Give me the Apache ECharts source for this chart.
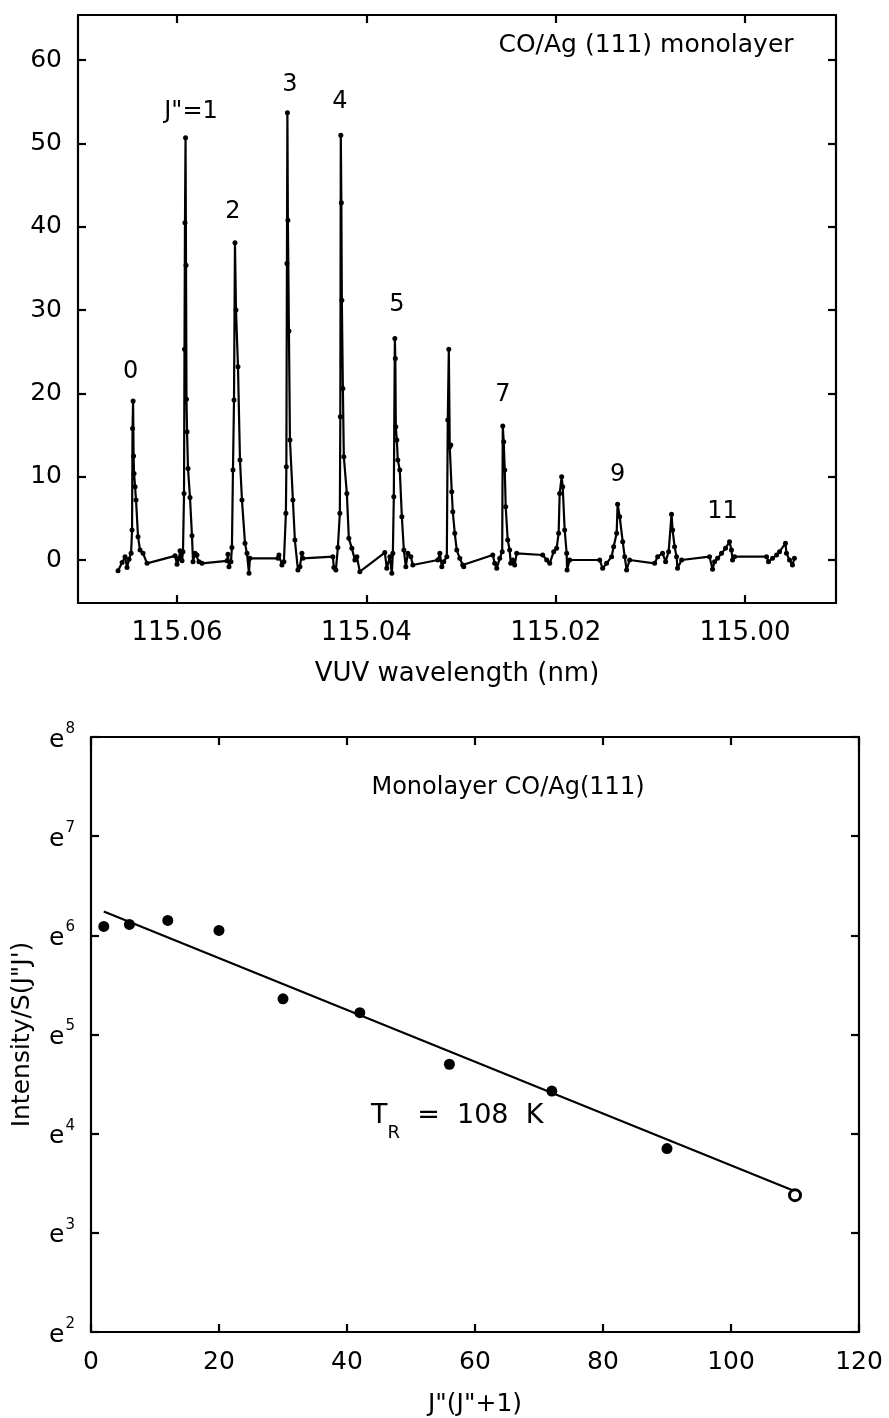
<!DOCTYPE html>
<html>
<head>
<meta charset="UTF-8">
<title>CO/Ag(111) VUV spectrum</title>
<script src="https://cdn.jsdelivr.net/npm/echarts@6/dist/echarts.min.js"></script>
<style>body{margin:0;background:#fff;}</style>
</head>
<body>
<div id="main" style="width:889px;height:1418px;"></div>
<script type="text/javascript">
// top panel: scan points [wavelength (nm), intensity], in scan order
var spectrum = [
  [115.06623,-1.3],[115.06580,-0.3],[115.06549,0.4],[115.06528,-0.9],[115.06507,0.1],[115.06485,0.8],[115.06475,3.6],[115.06470,15.8],[115.06464,19.1],[115.06459,12.5],[115.06454,10.4],[115.06443,8.8],[115.06433,7.2],[115.06412,2.8],[115.06391,1.2],[115.06359,0.8],[115.06317,-0.4],
  [115.06021,0.5],[115.06000,-0.5],[115.05979,0.2],[115.05968,1.1],[115.05947,-0.1],[115.05937,1.0],[115.05926,8.0],[115.05921,25.3],[115.05916,40.5],[115.05910,50.7],[115.05905,35.4],[115.05900,19.3],[115.05894,15.4],[115.05884,11.0],[115.05863,7.5],[115.05842,2.9],[115.05831,-0.2],[115.05810,0.8],[115.05789,0.6],[115.05768,-0.2],[115.05736,-0.4],
  [115.05472,-0.1],[115.05462,0.7],[115.05451,-0.8],[115.05430,-0.2],[115.05420,1.5],[115.05409,10.8],[115.05398,19.2],[115.05388,38.1],[115.05377,30.0],[115.05356,23.2],[115.05335,12.0],[115.05314,7.2],[115.05282,2.0],[115.05261,0.8],[115.05240,-1.6],[115.05230,0.2],
  [115.04934,0.2],[115.04923,0.6],[115.04892,-0.6],[115.04871,-0.2],[115.04850,5.6],[115.04845,11.2],[115.04839,35.6],[115.04834,53.7],[115.04829,40.8],[115.04818,27.5],[115.04807,14.4],[115.04776,7.2],[115.04755,2.4],[115.04723,-1.2],[115.04702,-0.8],[115.04681,0.8],[115.04670,0.2],
  [115.04354,0.4],[115.04343,-0.9],[115.04322,-1.2],[115.04301,1.5],[115.04280,5.6],[115.04275,17.2],[115.04270,51.0],[115.04264,42.9],[115.04259,31.2],[115.04248,20.6],[115.04238,12.4],[115.04206,8.0],[115.04185,2.6],[115.04153,1.4],[115.04121,0.0],[115.04100,0.4],[115.04069,-1.4],
  [115.03805,0.9],[115.03784,-1.0],[115.03752,0.4],[115.03731,-1.6],[115.03720,0.8],[115.03710,7.6],[115.03699,26.6],[115.03694,24.2],[115.03689,16.0],[115.03678,14.4],[115.03668,12.0],[115.03647,10.8],[115.03625,5.2],[115.03604,1.2],[115.03583,-0.8],[115.03562,0.8],[115.03530,0.4],[115.03509,-0.6],
  [115.03245,0.0],[115.03224,0.8],[115.03203,-0.8],[115.03182,-0.2],[115.03150,0.4],[115.03140,16.8],[115.03129,25.3],[115.03119,13.6],[115.03108,13.8],[115.03098,8.2],[115.03087,5.8],[115.03066,3.2],[115.03045,1.2],[115.03013,0.2],[115.02982,-0.6],[115.02971,-0.8],
  [115.02665,0.6],[115.02644,-0.4],[115.02623,-1.0],[115.02591,0.2],[115.02565,1.0],[115.02559,16.1],[115.02549,14.2],[115.02538,10.8],[115.02528,6.4],[115.02507,2.4],[115.02486,1.2],[115.02475,-0.4],[115.02454,0.0],[115.02433,-0.6],[115.02412,0.8],
  [115.02137,0.6],[115.02095,0.0],[115.02063,-0.4],[115.02021,1.0],[115.01990,1.4],[115.01969,3.2],[115.01958,8.0],[115.01937,10.0],[115.01926,8.8],[115.01905,3.6],[115.01884,0.8],[115.01880,-1.2],[115.01852,0.0],
  [115.01535,0.0],[115.01504,-1.0],[115.01462,-0.4],[115.01409,0.4],[115.01388,1.6],[115.01356,3.2],[115.01346,6.7],[115.01324,5.2],[115.01292,2.2],[115.01271,0.4],[115.01251,-1.2],[115.01219,0.0],
  [115.00955,-0.4],[115.00923,0.4],[115.00871,0.8],[115.00839,-0.2],[115.00807,1.0],[115.00776,5.5],[115.00765,3.6],[115.00744,1.6],[115.00723,0.4],[115.00713,-1.0],[115.00670,0.0],
  [115.00375,0.4],[115.00343,-1.1],[115.00322,-0.2],[115.00290,0.2],[115.00248,0.8],[115.00206,1.4],[115.00164,2.2],[115.00143,1.2],[115.00132,0.0],[115.00111,0.4],
  [114.99773,0.4],[114.99752,-0.2],[114.99709,0.2],[114.99667,0.6],[114.99636,1.0],[114.99573,2.0],[114.99562,0.8],[114.99530,0.0],[114.99499,-0.6],[114.99478,0.2]
];

// rotational line labels (text, wavelength, height)
var peakLabels = ['0', 'J"=1', '2', '3', '4', '5', '7', '9', '11'];
var peakLabelWl = [115.06490, 115.05852, 115.05409, 115.04807, 115.04280, 115.03678, 115.02559, 115.01346, 115.00238];
var peakLabelY  = [22.6, 53.8, 41.8, 57.1, 55.0, 30.6, 19.8, 10.2, 5.8];

var wlTicks  = [115.06, 115.04, 115.02, 115.00];
var intTicks = [0, 10, 20, 30, 40, 50, 60];

// bottom panel: Boltzmann plot, y is ln(Intensity/S)
var jTerm   = [2, 6, 12, 20, 30, 42, 56, 72, 90, 110];
var lnRatio = [6.09, 6.11, 6.15, 6.05, 5.36, 5.22, 4.70, 4.43, 3.85, 3.38];
var fitX = [2, 110];
var fitY = [6.24, 3.42];

var FONT = 'DejaVu Sans';
var black = '#000';
var lineSt = { color: black, width: 2.2 };

var myChart = echarts.init(document.getElementById('main'), null, { renderer: 'canvas' });

// axis copy on the opposite side: ticks only, no labels
function mirrorAxis(base, pos) {
    var a = {
        gridIndex: base.gridIndex, type: 'value', position: pos,
        min: base.min, max: base.max, inverse: !!base.inverse,
        axisLine: { show: true, onZero: false, lineStyle: lineSt },
        axisTick: { show: true, inside: true, length: 8, lineStyle: lineSt },
        axisLabel: { show: false },
        splitLine: { show: false }
    };
    if (base.interval) a.interval = base.interval;
    if (base.ticks) a.axisTick.customValues = base.ticks;
    return a;
}

var specData = spectrum.map(function (p) { return [p[0], p[1]]; });
var labelData = peakLabels.map(function (t, i) { return [peakLabelWl[i], peakLabelY[i], t]; });
var boltzData = jTerm.map(function (x, i) {
    var d = { value: [x, lnRatio[i]] };
    // last point is drawn open in the figure
    if (i === jTerm.length - 1) d.itemStyle = { color: '#fff', borderColor: black, borderWidth: 3 };
    return d;
});
var fitData = fitX.map(function (x, i) { return [x, fitY[i]]; });

var option = {
    animation: false,
    backgroundColor: '#fff',
    textStyle: { fontFamily: FONT, color: black },
    grid: [
        { left: 78, top: 15, width: 758, height: 588 },
        { left: 91, top: 737, width: 768, height: 595 }
    ],
    xAxis: [
        {
            gridIndex: 0, type: 'value', position: 'bottom', inverse: true,
            min: 114.99039, max: 115.07046,
            name: 'VUV wavelength (nm)', nameLocation: 'middle', nameGap: 58,
            nameTextStyle: { fontSize: 26, fontFamily: FONT, color: black },
            axisLine: { show: true, onZero: false, lineStyle: lineSt },
            axisTick: { show: true, inside: true, length: 8, lineStyle: lineSt, customValues: wlTicks },
            axisLabel: { customValues: wlTicks, fontSize: 26, margin: 17, color: black, fontFamily: FONT,
                formatter: function (v) { return v.toFixed(2); } },
            splitLine: { show: false }
        },
        mirrorAxis({ gridIndex: 0, min: 114.99039, max: 115.07046, inverse: true, ticks: wlTicks }, 'top'),
        {
            gridIndex: 1, type: 'value', position: 'bottom', min: 0, max: 120, interval: 20,
            name: 'J"(J"+1)', nameLocation: 'middle', nameGap: 60,
            nameTextStyle: { fontSize: 25, fontFamily: FONT, color: black },
            axisLine: { show: true, onZero: false, lineStyle: lineSt },
            axisTick: { show: true, inside: true, length: 8, lineStyle: lineSt },
            axisLabel: { fontSize: 25, margin: 18, color: black, fontFamily: FONT },
            splitLine: { show: false }
        },
        mirrorAxis({ gridIndex: 1, min: 0, max: 120, interval: 20 }, 'top')
    ],
    yAxis: [
        {
            gridIndex: 0, type: 'value', position: 'left', min: -5.16, max: 65.43,
            axisLine: { show: true, onZero: false, lineStyle: lineSt },
            axisTick: { show: true, inside: true, length: 8, lineStyle: lineSt, customValues: intTicks },
            axisLabel: { customValues: intTicks, fontSize: 25, margin: 16, color: black, fontFamily: FONT },
            splitLine: { show: false }
        },
        mirrorAxis({ gridIndex: 0, min: -5.16, max: 65.43, ticks: intTicks }, 'right'),
        {
            gridIndex: 1, type: 'value', position: 'left', min: 2, max: 8, interval: 1,
            name: 'Intensity/S(J"J\')', nameLocation: 'middle', nameGap: 56,
            nameTextStyle: { fontSize: 25, fontFamily: FONT, color: black },
            axisLine: { show: true, onZero: false, lineStyle: lineSt },
            axisTick: { show: true, inside: true, length: 8, lineStyle: lineSt },
            axisLabel: {
                margin: 16, color: black, fontFamily: FONT,
                formatter: function (v) { return '{e|e}{s|' + v + '}'; },
                rich: {
                    e: { fontSize: 25, fontFamily: FONT, color: black, lineHeight: 31, verticalAlign: 'bottom' },
                    s: { fontSize: 15, fontFamily: FONT, color: black, verticalAlign: 'top', padding: [0, 0, 0, 1] }
                }
            },
            splitLine: { show: false }
        },
        mirrorAxis({ gridIndex: 1, min: 2, max: 8, interval: 1 }, 'right')
    ],
    graphic: [
        { type: 'text', x: 646, y: 45, silent: true,
          style: { text: 'CO/Ag (111) monolayer', fontSize: 25, fontFamily: FONT, fill: black, align: 'center', verticalAlign: 'middle' } },
        { type: 'text', x: 508, y: 788, silent: true,
          style: { text: 'Monolayer CO/Ag(111)', fontSize: 24, fontFamily: FONT, fill: black, align: 'center', verticalAlign: 'middle' } },
        { type: 'text', x: 371, y: 1122, silent: true,
          style: {
              text: '{t|T}{r|R}{t|  =  108  K}', align: 'left', verticalAlign: 'middle',
              rich: {
                  t: { fontSize: 27, fontFamily: FONT, fill: black, lineHeight: 40, verticalAlign: 'top' },
                  r: { fontSize: 18, fontFamily: FONT, fill: black, verticalAlign: 'bottom' }
              }
          } }
    ],
    series: [
        {
            name: 'spectrum', type: 'line', xAxisIndex: 0, yAxisIndex: 0,
            data: specData, showSymbol: true, showAllSymbol: true,
            symbol: 'circle', symbolSize: 5,
            lineStyle: { color: black, width: 2.2 }, itemStyle: { color: black, opacity: 1 },
            silent: true
        },
        {
            name: 'peak labels', type: 'scatter', xAxisIndex: 0, yAxisIndex: 0,
            data: labelData, symbol: 'circle', symbolSize: 1,
            itemStyle: { color: 'rgba(0,0,0,0)', opacity: 1 },
            label: { show: true, position: 'inside', fontSize: 24, fontFamily: FONT, color: '#000', opacity: 1,
                formatter: function (p) { return p.data[2]; } },
            silent: true
        },
        {
            name: 'fit', type: 'line', xAxisIndex: 2, yAxisIndex: 2,
            data: fitData, showSymbol: false,
            lineStyle: { color: black, width: 2.2 }, silent: true
        },
        {
            name: 'boltzmann', type: 'scatter', xAxisIndex: 2, yAxisIndex: 2,
            data: boltzData, symbol: 'circle', symbolSize: 11,
            itemStyle: { color: black, opacity: 1 }, silent: true, z: 3
        }
    ]
};

myChart.setOption(option);
</script>
</body>
</html>
